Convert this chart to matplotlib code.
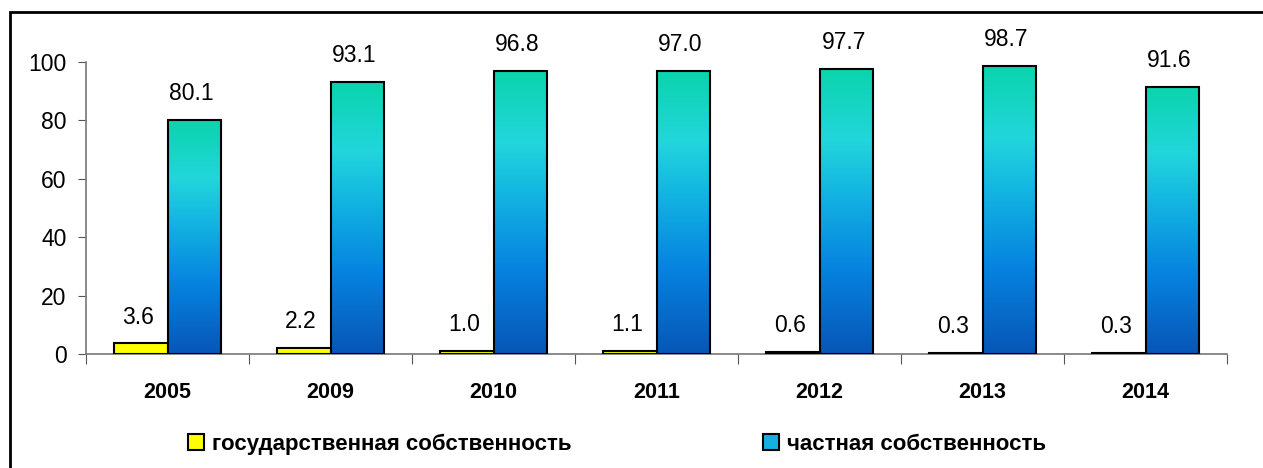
import numpy as np
import matplotlib
matplotlib.use("Agg")
import matplotlib.pyplot as plt
from matplotlib.colors import LinearSegmentedColormap
from matplotlib.patches import Patch, Rectangle

plt.rcParams['font.family'] = ['Liberation Sans', 'DejaVu Sans']

years = ['2005', '2009', '2010', '2011', '2012', '2013', '2014']
gov = [3.6, 2.2, 1.0, 1.1, 0.6, 0.3, 0.3]
priv = [80.1, 93.1, 96.8, 97.0, 97.7, 98.7, 91.6]
labels = ['государственная собственность', 'частная собственность']

W, H = 1263, 468
fig = plt.figure(figsize=(W / 100, H / 100), dpi=100)
ax = fig.add_axes([86 / W, 1 - 354 / H, (1227 - 86) / W, (354 - 62) / H])

# frame round the whole chart
fig.patches.append(Rectangle((10 / W, -0.05), 1.1, 1 - 12 / H + 0.05,
                             transform=fig.transFigure, fill=False,
                             edgecolor='black', linewidth=2))

cmap = LinearSegmentedColormap.from_list(
    'blu', [(0.0, '#0856b6'), (0.3, '#0683e0'), (0.55, '#12b2e2'),
            (0.75, '#22d6dc'), (1.0, '#0ad4ac')])
grad = np.linspace(1, 0, 256).reshape(-1, 1)

x = np.arange(len(years))
bw = 0.33

ax.bar(x - bw / 2, gov, bw, color='#ffff00', edgecolor='black', linewidth=1.5, zorder=3)
bars = ax.bar(x + bw / 2, priv, bw, facecolor='none', edgecolor='black', linewidth=1.5, zorder=4)
for b in bars:
    ax.imshow(grad, cmap=cmap, extent=[b.get_x(), b.get_x() + b.get_width(), 0, b.get_height()],
              aspect='auto', zorder=3)

for xi, v in zip(x - bw / 2, gov):
    ax.annotate(f'{v:.1f}', (xi, v), xytext=(-2, 19), textcoords='offset points',
                ha='center', va='center', fontsize=16.5, annotation_clip=False)
for xi, v in zip(x + bw / 2, priv):
    ax.annotate(f'{v:.1f}', (xi, v), xytext=(-2, 19), textcoords='offset points',
                ha='center', va='center', fontsize=16.5, annotation_clip=False)

ax.set_xlim(-0.5, len(years) - 0.5)
ax.set_ylim(0, 100)
ax.set_yticks(range(0, 101, 20))
ax.set_xticks(np.arange(len(years) + 1) - 0.5)
ax.set_xticklabels([])
ax.set_xticks(x, minor=True)
ax.set_xticklabels(years, minor=True, fontsize=15.5, fontweight='bold')
ax.tick_params(axis='x', which='minor', length=0, pad=20)
ax.tick_params(axis='x', which='major', length=7, color='#555555', direction='out')
ax.tick_params(axis='y', length=6, color='#555555', labelsize=16.5, pad=8)

for s in ['top', 'right']:
    ax.spines[s].set_visible(False)
for s in ['left', 'bottom']:
    ax.spines[s].set_color('#777777')
    ax.spines[s].set_linewidth(1.2)

handles = [Patch(facecolor='#ffff00', edgecolor='black', linewidth=1.5),
           Patch(facecolor='#14b0e2', edgecolor='black', linewidth=1.5)]
fig.legend(handles, labels, loc='center', bbox_to_anchor=(617 / W, 1 - 444 / H), ncol=2,
           frameon=False, prop={'size': 16, 'weight': 'bold'}, handlelength=0.75,
           handleheight=0.75, handletextpad=0.35, columnspacing=8.6)

fig.savefig('out.png', dpi=100)
